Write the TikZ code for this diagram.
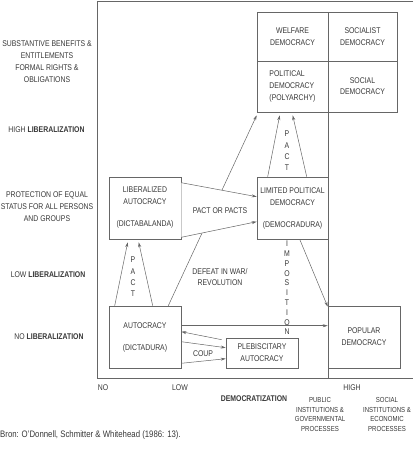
\documentclass[tikz,border=0pt]{standalone}
\usepackage{fontspec}
\setmainfont{Liberation Sans}[FakeStretch=0.83]
\usetikzlibrary{arrows.meta,calc}
\definecolor{ink}{HTML}{383838}
\definecolor{rule}{HTML}{666666}
\begin{document}
\begin{tikzpicture}[x=1pt,y=-1pt,
  every node/.style={text=ink, inner sep=0pt},
  box/.style={draw=rule, line width=0.6pt, align=center, font=\fontsize{8.3}{12}\selectfont},
  lbl/.style={align=center, font=\fontsize{8.3}{11.8}\selectfont},
  vlbl/.style={align=center, font=\fontsize{8.3}{11.3}\selectfont},
  small/.style={align=center, font=\fontsize{7.3}{9.7}\selectfont},
  arr/.style={draw=rule, line width=0.5pt, -{Stealth[length=5pt,width=3pt]}},
  frameline/.style={draw=rule, line width=0.7pt}]
\useasboundingbox (0,0) rectangle (413,450);

% frame
\coordinate (tl) at (97,1);
\coordinate (bl) at (97,378);
\coordinate (br) at (413,378);
\coordinate (tr) at (413,1);
\draw[frameline] (tr) -- (tl) -- (bl) -- (br);

% top grid
\node[box, minimum width=71pt, minimum height=49pt] (welf) at (292.5,36.5) {WELFARE\\DEMOCRACY};
\node[box, minimum width=69pt, minimum height=49pt] (socl) at (362.5,36.5) {SOCIALIST\\DEMOCRACY};
\node[box, minimum width=71pt, minimum height=51pt, align=left] (pold) at (292.5,86.5) {POLITICAL\\DEMOCRACY\\(POLYARCHY)};
\node[box, minimum width=69pt, minimum height=51pt, font=\fontsize{8.3}{11}\selectfont] (socd) at (362.5,86.5) {SOCIAL\\DEMOCRACY};

% main boxes
\node[box, minimum width=72pt, minimum height=62pt] (libaut) at (145,208) {LIBERALIZED\\AUTOCRACY\\[10pt](DICTABALANDA)};
\node[box, minimum width=71pt, minimum height=62pt] (limdem) at (292.5,208) {LIMITED POLITICAL\\DEMOCRACY\\[10pt](DEMOCRADURA)};
\node[box, minimum width=72pt, minimum height=62pt] (aut) at (145,337) {AUTOCRACY\\[10pt](DICTADURA)};
\node[box, minimum width=72pt, minimum height=30pt] (pleb) at (262,353) {PLEBISCITARY\\AUTOCRACY};
\node[box, minimum width=72pt, minimum height=62pt] (popdem) at (364,337) {POPULAR\\DEMOCRACY};

% vertical divider
\draw[frameline, line width=0.6pt] (pold.south east) -- (pold.south east |- bl);

% long arrow (hidden between the two pact arrows)
\draw[arr] ([xshift=-13pt]aut.north east) -- ([yshift=-3pt]pold.south west);
\fill[white] ([yshift=-6pt]libaut.north east) -- ([yshift=-20pt]limdem.north west)
  -- ([yshift=-45pt]limdem.north west) -- ([yshift=2pt]libaut.south east) -- cycle;

% arrows
\draw[arr] ([yshift=-6pt]libaut.north east) -- ([yshift=-20pt]limdem.north west);
\draw[arr] ([yshift=2pt]libaut.south east) -- ([yshift=-45pt]limdem.north west);
\draw[arr] ([xshift=6pt]aut.north west) -- ([xshift=19pt,yshift=-3pt]libaut.south west);
\draw[arr] ([xshift=44pt]aut.north west) -- ([xshift=30pt,yshift=-3pt]libaut.south west);
\draw[arr] ([xshift=11pt]limdem.north west) -- ([xshift=23pt,yshift=-3pt]pold.south west);
\draw[arr] ([xshift=50pt]limdem.north west) -- ([xshift=36pt,yshift=-3pt]pold.south west);
\draw[arr] ([xshift=43pt]limdem.south west) -- ([yshift=-1pt]popdem.north west);
\draw[arr] ([yshift=-20pt]aut.north east) -- ([yshift=-20pt]popdem.north west);
\draw[arr] ([xshift=-4pt,yshift=-2pt]pleb.north west) -- ([yshift=-26pt]aut.north east);
\draw[arr] ([yshift=-36pt]aut.north east) -- ([yshift=-10pt]pleb.north west);
\draw[arr] ([yshift=5pt]aut.south east) -- ([yshift=-21pt]pleb.north west);

% connector labels
\node[lbl] (pacts) at (220,211) {PACT OR PACTS};
\node[lbl, font=\fontsize{8.3}{11}\selectfont] (defeat) at (220,277.5) {DEFEAT IN WAR/\\REVOLUTION};
\node[lbl] (coup) at (203,354) {COUP};
\node[vlbl] (pactA) at (133,277) {P\\A\\C\\T};
\node[vlbl] (pactB) at (287,151) {P\\A\\C\\T};
\node[vlbl, font=\fontsize{8.3}{9.8}\selectfont] (impos) at (287,288) {I\\M\\P\\O\\S\\I\\T\\I\\O\\N};

% left axis labels
\node[lbl] (subst) at (47,61.5) {SUBSTANTIVE BENEFITS \&\\ENTITLEMENTS\\FORMAL RIGHTS \&\\OBLIGATIONS};
\node[lbl] (highlib) at (46.5,130) {HIGH \textbf{LIBERALIZATION}};
\node[lbl, font=\fontsize{8.3}{12}\selectfont] (protect) at (47,207) {PROTECTION OF EQUAL\\STATUS FOR ALL PERSONS\\AND GROUPS};
\node[lbl] (lowlib) at (48,275) {LOW \textbf{LIBERALIZATION}};
\node[lbl] (nolib) at (49,337) {NO \textbf{LIBERALIZATION}};

% bottom axis labels
\node[lbl] (xno) at (103,388) {NO};
\node[lbl] (xlow) at (180,388) {LOW};
\node[lbl] (xhigh) at (352,388) {HIGH};
\node[lbl] (democ) at (254,399) {\textbf{DEMOCRATIZATION}};
\node[small] (public) at (320,414.5) {PUBLIC\\INSTITUTIONS \&\\GOVERNMENTAL\\PROCESSES};
\node[small] (social) at (387,414.5) {SOCIAL\\INSTITUTIONS \&\\ECONOMIC\\PROCESSES};

% source
\node[anchor=west, font=\fontsize{9.4}{11}\selectfont] (bron) at (0,435) {Bron: O'Donnell, Schmitter \& Whitehead (1986: 13).};
\end{tikzpicture}
\end{document}
